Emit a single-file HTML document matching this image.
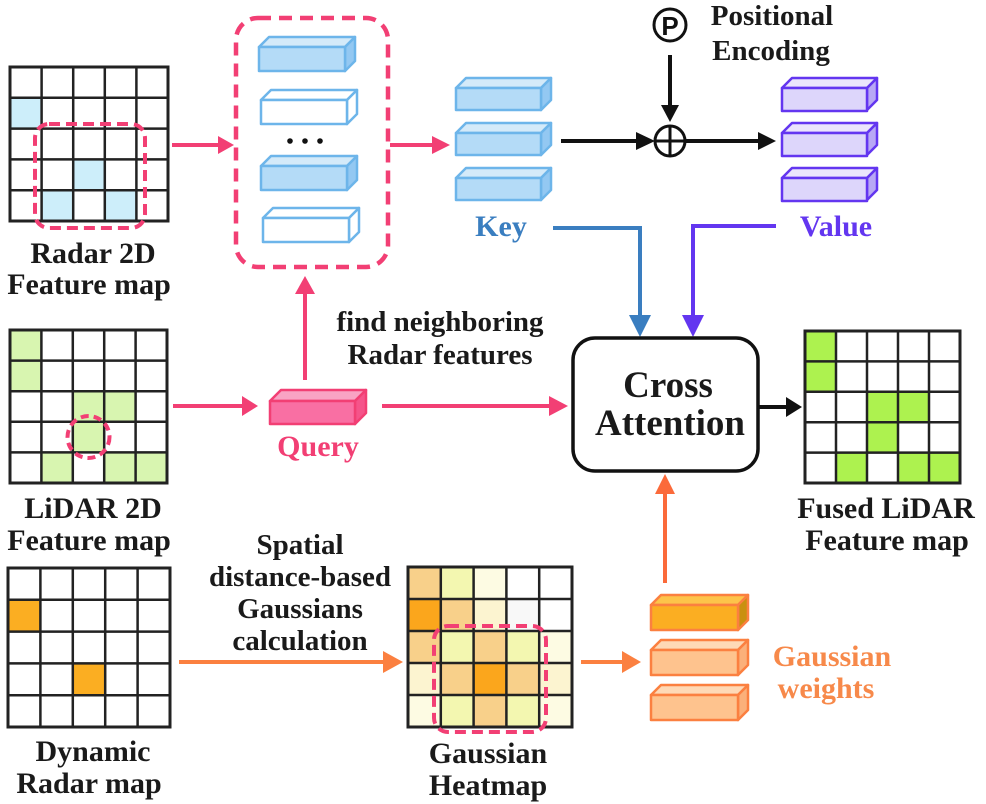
<!DOCTYPE html>
<html><head><meta charset="utf-8"><style>
html,body{margin:0;padding:0;background:#fff}
svg{display:block}
text{font-family:"Liberation Serif",serif;font-weight:bold}
</style></head><body>
<svg width="986" height="804" viewBox="0 0 986 804" xmlns="http://www.w3.org/2000/svg">

<!-- Radar 2D grid -->
<g>
<rect x="10" y="67" width="158" height="154" fill="#fff"/>
<rect x="10" y="97.8" width="31.6" height="30.8" fill="#cdeefa"/>
<rect x="73.2" y="159.4" width="31.6" height="30.8" fill="#cdeefa"/>
<rect x="41.6" y="190.2" width="31.6" height="30.8" fill="#cdeefa"/>
<rect x="104.8" y="190.2" width="31.6" height="30.8" fill="#cdeefa"/>
<path d="M41.6 67V221M73.2 67V221M104.8 67V221M136.4 67V221M10 97.8H168M10 128.6H168M10 159.4H168M10 190.2H168" stroke="#222" stroke-width="2.5"/>
<rect x="10" y="67" width="158" height="154" fill="none" stroke="#222" stroke-width="3"/>
<rect x="35" y="124" width="110" height="104" rx="14" fill="none" stroke="#f23f74" stroke-width="4" stroke-dasharray="11,6"/>
</g>
<text x="93" y="263" font-size="30" text-anchor="middle" fill="#1a1a1a">Radar 2D</text>
<text x="89" y="294" font-size="30" text-anchor="middle" fill="#1a1a1a">Feature map</text>

<!-- arrows pink -->
<line x1="172" y1="145" x2="222" y2="145" stroke="#f23f74" stroke-width="4"/>
<path d="M218 136L234 145L218 154z" fill="#f23f74"/>
<line x1="390" y1="145" x2="436" y2="145" stroke="#f23f74" stroke-width="4"/>
<path d="M432 136L450 145L432 154z" fill="#f23f74"/>

<!-- big dashed box -->
<rect x="236" y="18" width="152" height="249" rx="22" fill="none" stroke="#f23f74" stroke-width="4.5" stroke-dasharray="13,8"/>
<g stroke="#6db5ea" stroke-width="2.5" stroke-linejoin="round">
<polygon points="259,47 269,37 355,37 345,47" fill="#d4eaf9"/><polygon points="345,47 355,37 355,61 345,71" fill="#93c8f2"/><rect x="259" y="47" width="86" height="24" fill="#b4dbf7"/>
<polygon points="261,100 271,90 357,90 347,100" fill="#fff"/><polygon points="347,100 357,90 357,114 347,124" fill="#fff"/><rect x="261" y="100" width="86" height="24" fill="#fff"/>
<polygon points="261,166 271,156 357,156 347,166" fill="#d4eaf9"/><polygon points="347,166 357,156 357,180 347,190" fill="#93c8f2"/><rect x="261" y="166" width="86" height="24" fill="#b4dbf7"/>
<polygon points="263,218 273,208 359,208 349,218" fill="#fff"/><polygon points="349,218 359,208 359,232 349,242" fill="#fff"/><rect x="263" y="218" width="86" height="24" fill="#fff"/>
</g>
<circle cx="290" cy="141" r="2.8" fill="#111"/><circle cx="305" cy="141" r="2.8" fill="#111"/><circle cx="320" cy="141" r="2.8" fill="#111"/>

<!-- Key cubes -->
<g stroke="#6db5ea" stroke-width="2.5" stroke-linejoin="round">
<polygon points="456,88 466,78 551,78 541,88" fill="#d4eaf9"/><polygon points="541,88 551,78 551,100 541,110" fill="#93c8f2"/><rect x="456" y="88" width="85" height="22" fill="#b4dbf7"/>
<polygon points="456,133 466,123 551,123 541,133" fill="#d4eaf9"/><polygon points="541,133 551,123 551,145 541,155" fill="#93c8f2"/><rect x="456" y="133" width="85" height="22" fill="#b4dbf7"/>
<polygon points="456,178 466,168 551,168 541,178" fill="#d4eaf9"/><polygon points="541,178 551,168 551,190 541,200" fill="#93c8f2"/><rect x="456" y="178" width="85" height="22" fill="#b4dbf7"/>
</g>
<text x="501" y="236" font-size="30" text-anchor="middle" fill="#3a7ec0">Key</text>

<!-- Value cubes -->
<g stroke="#6336f0" stroke-width="2.5" stroke-linejoin="round">
<polygon points="782,88 792,78 877,78 867,88" fill="#ebe5fc"/><polygon points="867,88 877,78 877,100 867,110" fill="#b8a8f5"/><rect x="782" y="88" width="85" height="23" fill="#ddd6fb"/>
<polygon points="782,133 792,123 877,123 867,133" fill="#ebe5fc"/><polygon points="867,133 877,123 877,145 867,155" fill="#b8a8f5"/><rect x="782" y="133" width="85" height="23" fill="#ddd6fb"/>
<polygon points="782,178 792,168 877,168 867,178" fill="#ebe5fc"/><polygon points="867,178 877,168 877,190 867,200" fill="#b8a8f5"/><rect x="782" y="178" width="85" height="23" fill="#ddd6fb"/>
</g>
<text x="836" y="236" font-size="30" text-anchor="middle" fill="#6336f0">Value</text>

<!-- positional encoding -->
<circle cx="670" cy="25" r="16" fill="#fff" stroke="#111" stroke-width="3"/>
<text x="670" y="35" font-size="26" text-anchor="middle" fill="#111" style="font-family:'Liberation Sans',sans-serif">P</text>
<text x="772" y="25" font-size="29" text-anchor="middle" fill="#1a1a1a">Positional</text>
<text x="771" y="60" font-size="29" text-anchor="middle" fill="#1a1a1a">Encoding</text>
<line x1="670" y1="55" x2="670" y2="110" stroke="#111" stroke-width="4"/>
<path d="M661 105L670 122L679 105z" fill="#111"/>
<circle cx="670" cy="141" r="15" fill="#fff" stroke="#111" stroke-width="3"/>
<path d="M655 141H685M670 126V156" stroke="#111" stroke-width="3"/>
<line x1="561" y1="141" x2="640" y2="141" stroke="#111" stroke-width="4"/>
<path d="M636 132L655 141L636 150z" fill="#111"/>
<line x1="685" y1="141" x2="762" y2="141" stroke="#111" stroke-width="4"/>
<path d="M758 132L776 141L758 150z" fill="#111"/>

<!-- key/value connectors -->
<path d="M553 228H640V322" fill="none" stroke="#3a7ec0" stroke-width="4"/>
<path d="M629 315L640 337L651 315z" fill="#3a7ec0"/>
<path d="M776 226H693V322" fill="none" stroke="#6336f0" stroke-width="4"/>
<path d="M682 315L693 337L704 315z" fill="#6336f0"/>

<!-- Cross attention -->
<rect x="573" y="338" width="185" height="133" rx="22" fill="#fff" stroke="#111" stroke-width="3.5"/>
<text x="668" y="397" font-size="37" text-anchor="middle" fill="#1a1a1a">Cross</text>
<text x="670" y="435" font-size="37" text-anchor="middle" fill="#1a1a1a">Attention</text>
<line x1="759" y1="407" x2="790" y2="407" stroke="#111" stroke-width="4"/>
<path d="M786 397L802 407L786 417z" fill="#111"/>

<!-- Fused grid -->
<g>
<rect x="805" y="331" width="155" height="152" fill="#fff"/>
<g fill="#adf24f">
<rect x="805" y="331" width="31" height="30.4"/><rect x="805" y="361.4" width="31" height="30.4"/>
<rect x="867" y="391.8" width="31" height="30.4"/><rect x="898" y="391.8" width="31" height="30.4"/>
<rect x="867" y="422.2" width="31" height="30.4"/>
<rect x="836" y="452.6" width="31" height="30.4"/><rect x="898" y="452.6" width="31" height="30.4"/><rect x="929" y="452.6" width="31" height="30.4"/>
</g>
<path d="M836 331V483M867 331V483M898 331V483M929 331V483M805 361.4H960M805 391.8H960M805 422.2H960M805 452.6H960" stroke="#222" stroke-width="2.5"/>
<rect x="805" y="331" width="155" height="152" fill="none" stroke="#222" stroke-width="3"/>
</g>
<text x="886" y="518" font-size="30" text-anchor="middle" fill="#1a1a1a">Fused LiDAR</text>
<text x="887" y="550" font-size="30" text-anchor="middle" fill="#1a1a1a">Feature map</text>

<!-- LiDAR grid -->
<g>
<rect x="10" y="330" width="157" height="153" fill="#fff"/>
<g fill="#d8f5b0">
<rect x="10" y="330" width="31.4" height="30.6"/><rect x="10" y="360.6" width="31.4" height="30.6"/>
<rect x="72.8" y="391.2" width="31.4" height="30.6"/><rect x="104.2" y="391.2" width="31.4" height="30.6"/>
<rect x="72.8" y="421.8" width="31.4" height="30.6"/>
<rect x="41.4" y="452.4" width="31.4" height="30.6"/><rect x="104.2" y="452.4" width="31.4" height="30.6"/><rect x="135.6" y="452.4" width="31.4" height="30.6"/>
</g>
<path d="M41.4 330V483M72.8 330V483M104.2 330V483M135.6 330V483M10 360.6H167M10 391.2H167M10 421.8H167M10 452.4H167" stroke="#222" stroke-width="2.5"/>
<rect x="10" y="330" width="157" height="153" fill="none" stroke="#222" stroke-width="3"/>
<circle cx="88.5" cy="437" r="21" fill="none" stroke="#f23f74" stroke-width="4" stroke-dasharray="8,5"/>
</g>
<text x="93" y="518" font-size="30" text-anchor="middle" fill="#1a1a1a">LiDAR 2D</text>
<text x="89" y="550" font-size="30" text-anchor="middle" fill="#1a1a1a">Feature map</text>

<!-- query -->
<line x1="173" y1="406" x2="245" y2="406" stroke="#f23f74" stroke-width="4"/>
<path d="M242 396L258 406L242 416z" fill="#f23f74"/>
<g stroke="#f23f74" stroke-width="2.5" stroke-linejoin="round">
<polygon points="270,401 281,390 366,390 355,401" fill="#f9a3c4"/><polygon points="355,401 366,390 366,413 355,424" fill="#f5548a"/><rect x="270" y="401" width="85" height="23" fill="#f96fa3"/>
</g>
<text x="318" y="456" font-size="30" text-anchor="middle" fill="#f23f74">Query</text>
<line x1="305" y1="380" x2="305" y2="290" stroke="#f23f74" stroke-width="4"/>
<path d="M295 294L305 276L315 294z" fill="#f23f74"/>
<line x1="382" y1="406" x2="552" y2="406" stroke="#f23f74" stroke-width="4"/>
<path d="M549 396L568 406L549 416z" fill="#f23f74"/>
<text x="440" y="331" font-size="29" text-anchor="middle" fill="#1a1a1a">find neighboring</text>
<text x="440" y="364" font-size="29" text-anchor="middle" fill="#1a1a1a">Radar features</text>

<!-- Dynamic radar grid -->
<g>
<rect x="8" y="568" width="162" height="159" fill="#fff"/>
<rect x="8" y="599.8" width="32.4" height="31.8" fill="#fbae22"/>
<rect x="72.8" y="663.4" width="32.4" height="31.8" fill="#fbae22"/>
<path d="M40.4 568V727M72.8 568V727M105.2 568V727M137.6 568V727M8 599.8H170M8 631.6H170M8 663.4H170M8 695.2H170" stroke="#222" stroke-width="2.5"/>
<rect x="8" y="568" width="162" height="159" fill="none" stroke="#222" stroke-width="3"/>
</g>
<text x="93" y="761" font-size="30" text-anchor="middle" fill="#1a1a1a">Dynamic</text>
<text x="89" y="793" font-size="30" text-anchor="middle" fill="#1a1a1a">Radar map</text>

<text x="300" y="554" font-size="29" text-anchor="middle" fill="#1a1a1a">Spatial</text>
<text x="300" y="586" font-size="29" text-anchor="middle" fill="#1a1a1a">distance-based</text>
<text x="300" y="618" font-size="29" text-anchor="middle" fill="#1a1a1a">Gaussians</text>
<text x="300" y="650" font-size="29" text-anchor="middle" fill="#1a1a1a">calculation</text>
<line x1="179" y1="662" x2="386" y2="662" stroke="#fb8040" stroke-width="4"/>
<path d="M383 651L403 662L383 673z" fill="#fb8040"/>

<!-- Heatmap grid -->
<g>
<rect x="408" y="567" width="164" height="160" fill="#fff"/>
<g>
<rect x="408" y="567" width="32.8" height="32" fill="#f8d08a"/><rect x="440.8" y="567" width="32.8" height="32" fill="#f3f7b0"/><rect x="473.6" y="567" width="32.8" height="32" fill="#fdfbe3"/>
<rect x="408" y="599" width="32.8" height="32" fill="#fba61c"/><rect x="440.8" y="599" width="32.8" height="32" fill="#f8d08a"/><rect x="473.6" y="599" width="32.8" height="32" fill="#fcf4d0"/><rect x="506.4" y="599" width="32.8" height="32" fill="#f8f8f8"/>
<rect x="408" y="631" width="32.8" height="32" fill="#f8d08a"/><rect x="440.8" y="631" width="32.8" height="32" fill="#f3f7b0"/><rect x="473.6" y="631" width="32.8" height="32" fill="#f8d08a"/><rect x="506.4" y="631" width="32.8" height="32" fill="#f3f7b0"/><rect x="539.2" y="631" width="32.8" height="32" fill="#fdfbe3"/>
<rect x="408" y="663" width="32.8" height="32" fill="#fcf4d0"/><rect x="440.8" y="663" width="32.8" height="32" fill="#f8d08a"/><rect x="473.6" y="663" width="32.8" height="32" fill="#fba61c"/><rect x="506.4" y="663" width="32.8" height="32" fill="#f8d08a"/><rect x="539.2" y="663" width="32.8" height="32" fill="#fcf4d0"/>
<rect x="408" y="695" width="32.8" height="32" fill="#fdfbe3"/><rect x="440.8" y="695" width="32.8" height="32" fill="#f3f7b0"/><rect x="473.6" y="695" width="32.8" height="32" fill="#f8d08a"/><rect x="506.4" y="695" width="32.8" height="32" fill="#f3f7b0"/><rect x="539.2" y="695" width="32.8" height="32" fill="#fdfbe3"/>
</g>
<path d="M440.8 567V727M473.6 567V727M506.4 567V727M539.2 567V727M408 599H572M408 631H572M408 663H572M408 695H572" stroke="#222" stroke-width="2.5"/>
<rect x="408" y="567" width="164" height="160" fill="none" stroke="#222" stroke-width="3"/>
<rect x="434" y="626" width="112" height="106" rx="14" fill="none" stroke="#f23f74" stroke-width="4" stroke-dasharray="11,6"/>
</g>
<text x="488" y="763" font-size="30" text-anchor="middle" fill="#1a1a1a">Gaussian</text>
<text x="488" y="795" font-size="30" text-anchor="middle" fill="#1a1a1a">Heatmap</text>

<line x1="581" y1="662" x2="626" y2="662" stroke="#fb8040" stroke-width="4"/>
<path d="M622 651L641 662L622 673z" fill="#fb8040"/>

<!-- Gaussian weights cubes -->
<g stroke="#fb8040" stroke-width="2.5" stroke-linejoin="round">
<polygon points="651,605 661,595 748,595 738,605" fill="#fdc44a"/><polygon points="738,605 748,595 748,620 738,630" fill="#c99010"/><rect x="651" y="605" width="87" height="25" fill="#fbae22"/>
<polygon points="651,650 661,640 748,640 738,650" fill="#fed9b6"/><polygon points="738,650 748,640 748,665 738,675" fill="#fbb07a"/><rect x="651" y="650" width="87" height="25" fill="#fec38e"/>
<polygon points="651,695 661,685 748,685 738,695" fill="#fed9b6"/><polygon points="738,695 748,685 748,710 738,720" fill="#fbb07a"/><rect x="651" y="695" width="87" height="25" fill="#fec38e"/>
</g>
<text x="832" y="666" font-size="30" text-anchor="middle" fill="#f7894a">Gaussian</text>
<text x="826" y="698" font-size="30" text-anchor="middle" fill="#f7894a">weights</text>

<line x1="665" y1="583" x2="665" y2="490" stroke="#fb6a3a" stroke-width="4"/>
<path d="M655 494L665 474L675 494z" fill="#fb6a3a"/>
</svg>
</body></html>
